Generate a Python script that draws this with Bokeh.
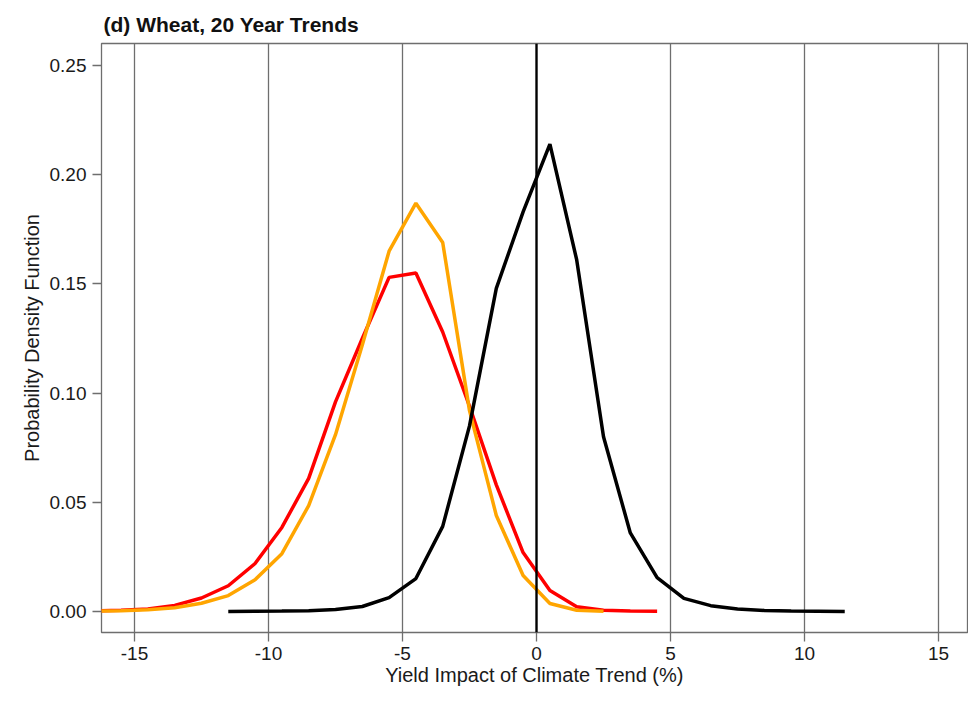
from bokeh.plotting import figure
from bokeh.models import Range1d, FixedTicker, PrintfTickFormatter, Span
from bokeh.embed import file_html
from bokeh.resources import INLINE

# ---- data ----
black_x = [-11.5, -10.5, -9.5, -8.5, -7.5, -6.5, -5.5, -4.5, -3.5, -2.5, -1.5, -0.5,
           0.5, 1.5, 2.5, 3.5, 4.5, 5.5, 6.5, 7.5, 8.5, 9.5, 10.5, 11.5]
black_y = [0.0000, 0.0001, 0.0002, 0.0004, 0.0009, 0.0023, 0.0064, 0.0151, 0.039, 0.085, 0.148, 0.183,
           0.214, 0.161, 0.080, 0.036, 0.0155, 0.006, 0.0027, 0.0012, 0.0005, 0.0002, 0.0001, 0.0000]

red_x = [-16.5, -15.5, -14.5, -13.5, -12.5, -11.5, -10.5, -9.5, -8.5, -7.5, -6.5, -5.5,
         -4.5, -3.5, -2.5, -1.5, -0.5, 0.5, 1.5, 2.5, 3.5, 4.5]
red_y = [0.0003, 0.0006, 0.0012, 0.0028, 0.0062, 0.0118, 0.022, 0.0385, 0.061, 0.096, 0.125, 0.153,
         0.155, 0.128, 0.094, 0.058, 0.027, 0.0096, 0.0022, 0.0006, 0.0002, 0.0001]

orange_x = [-16.5, -15.5, -14.5, -13.5, -12.5, -11.5, -10.5, -9.5, -8.5, -7.5, -6.5, -5.5,
            -4.5, -3.5, -2.5, -1.5, -0.5, 0.5, 1.5, 2.5]
orange_y = [0.0002, 0.0004, 0.0008, 0.0017, 0.0038, 0.0073, 0.0146, 0.0265, 0.0485, 0.081, 0.122, 0.165,
            0.187, 0.169, 0.092, 0.044, 0.0165, 0.0037, 0.0006, 0.0001]

x_ticks = [-15, -10, -5, 0, 5, 10, 15]
y_ticks = [0.00, 0.05, 0.10, 0.15, 0.20, 0.25]
grid_x = [-15, -10, -5, 5, 10, 15]

FONT = "Liberation Sans"
GRAY = "#6e6e6e"

p = figure(width=968, height=693,
           x_range=Range1d(-16.23, 16.08), y_range=Range1d(-0.0096, 0.2601),
           output_backend="svg", toolbar_location=None,
           min_border_left=101, min_border_right=1, min_border_top=43, min_border_bottom=61,
           title="(d) Wheat, 20 Year Trends")

p.title.text_font = FONT
p.title.text_font_size = "21px"
p.title.text_font_style = "bold"
p.title.text_color = "#111111"
p.title.align = "left"
p.title.offset = 2
p.title.standoff = 15

p.outline_line_color = GRAY
p.outline_line_width = 1.3
p.background_fill_color = "white"
p.border_fill_color = "white"

# grid
p.ygrid.visible = False
p.xgrid.ticker = FixedTicker(ticks=grid_x)
p.xgrid.grid_line_color = GRAY
p.xgrid.grid_line_width = 1.3
p.add_layout(Span(location=0, dimension="height", line_color="black", line_width=2.4))

# axes
for ax in (p.xaxis[0], p.yaxis[0]):
    ax.axis_line_color = None
    ax.major_tick_line_color = GRAY
    ax.major_tick_line_width = 1.3
    ax.major_tick_out = 9
    ax.major_tick_in = 0
    ax.minor_tick_line_color = None
    ax.major_label_text_font = FONT
    ax.major_label_text_font_size = "19px"
    ax.major_label_text_color = "#1a1a1a"
    ax.axis_label_text_font = FONT
    ax.axis_label_text_font_size = "20px"
    ax.axis_label_text_font_style = "normal"
    ax.axis_label_text_color = "#1a1a1a"

p.xaxis.ticker = FixedTicker(ticks=x_ticks)
p.yaxis.ticker = FixedTicker(ticks=y_ticks)
p.xaxis.formatter = PrintfTickFormatter(format="%d")
p.yaxis.formatter = PrintfTickFormatter(format="%.2f")
p.xaxis.axis_label = "Yield Impact of Climate Trend (%)"
p.yaxis.axis_label = "Probability Density Function"
p.xaxis.major_label_standoff = 5
p.xaxis.axis_label_standoff = 1
p.yaxis.major_label_standoff = 6
p.yaxis.axis_label_standoff = 4

# curves
p.line(red_x, red_y, line_color="#FF0000", line_width=3.5)
p.line(orange_x, orange_y, line_color="#FFA500", line_width=3.5)
p.line(black_x, black_y, line_color="black", line_width=3.5)

open("out.html", "w").write(file_html(p, INLINE))
